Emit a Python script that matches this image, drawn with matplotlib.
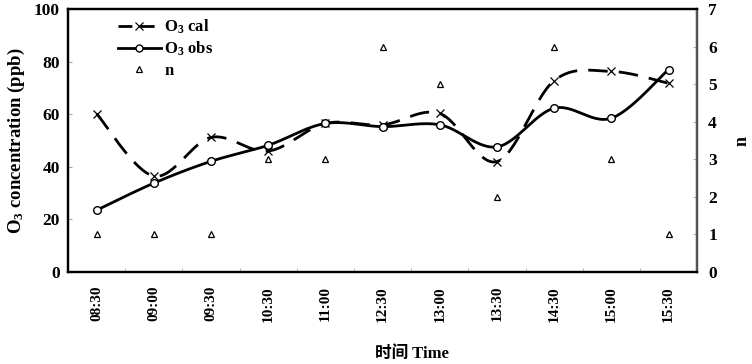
import numpy as np
import matplotlib
matplotlib.use("Agg")
import matplotlib.pyplot as plt
from matplotlib.lines import Line2D

plt.rcParams['font.family'] = ['Liberation Serif', 'Noto Sans CJK SC']
plt.rcParams['font.weight'] = 'bold'
plt.rcParams['mathtext.fontset'] = 'custom'
plt.rcParams['mathtext.rm'] = 'Liberation Serif:bold'
plt.rcParams['mathtext.it'] = 'Liberation Serif:bold'
plt.rcParams['mathtext.bf'] = 'Liberation Serif:bold'

times = ["08:30", "09:00", "09:30", "10:30", "11:00", "12:30",
         "13:00", "13:30", "14:30", "15:00", "15:30"]
o3_cal = [60.2, 36.5, 51.2, 46.0, 56.5, 56.0, 60.3, 42.0, 72.8, 76.3, 71.8]
o3_obs = [23.5, 33.8, 42.1, 48.2, 56.5, 55.3, 56.0, 47.6, 62.3, 58.5, 77.0]
n_vals = [1, 1, 1, 3, 3, 6, 5, 2, 6, 3, 1]


def smooth(xs, ys, steps=30):
    xs = np.asarray(xs, float)
    ys = np.asarray(ys, float)
    px, py = [], []
    N = len(xs)
    for i in range(N - 1):
        p0 = (xs[max(i - 1, 0)], ys[max(i - 1, 0)])
        p1 = (xs[i], ys[i])
        p2 = (xs[i + 1], ys[i + 1])
        p3 = (xs[min(i + 2, N - 1)], ys[min(i + 2, N - 1)])
        c1 = (p1[0] + (p2[0] - p0[0]) / 6, p1[1] + (p2[1] - p0[1]) / 6)
        c2 = (p2[0] - (p3[0] - p1[0]) / 6, p2[1] - (p3[1] - p1[1]) / 6)
        t = np.linspace(0, 1, steps, endpoint=(i == N - 2))
        bx = ((1 - t) ** 3 * p1[0] + 3 * (1 - t) ** 2 * t * c1[0]
              + 3 * (1 - t) * t ** 2 * c2[0] + t ** 3 * p2[0])
        by = ((1 - t) ** 3 * p1[1] + 3 * (1 - t) ** 2 * t * c1[1]
              + 3 * (1 - t) * t ** 2 * c2[1] + t ** 3 * p2[1])
        px.extend(bx)
        py.extend(by)
    return np.array(px), np.array(py)


x = np.arange(len(times))
fig = plt.figure(figsize=(7.52, 3.64), dpi=100)
ax = fig.add_axes([0.0904, 0.2527, 0.927 - 0.0904, 0.975 - 0.2527])
ax2 = ax.twinx()

sx, sy = smooth(x, o3_cal)
ax.plot(sx, sy, color='black', lw=2.0, dashes=(7, 4))
ax.plot(x, o3_cal, ls='none', marker='x', ms=6, mec='black', mew=0.9)
sx, sy = smooth(x, o3_obs)
ax.plot(sx, sy, color='black', lw=2.0)
ax.plot(x, o3_obs, ls='none', marker='o', ms=5.5, mfc='white', mec='black', mew=1.0)
ax2.plot(x, n_vals, ls='none', marker='^', ms=4.5, mfc='white', mec='black', mew=0.9)

ax.set_xlim(-0.5, len(times) - 0.5)
ax.set_ylim(0, 100)
ax2.set_ylim(0, 7)
ax.set_yticks(np.arange(0, 101, 20))
ax2.set_yticks(np.arange(0, 8, 1))
ax.set_xticks(x)
ax.set_xticklabels(times, rotation=90, fontsize=11, fontweight='bold')
ax.set_xticks(np.arange(0.5, len(times) - 1, 1), minor=True)
ax.tick_params(axis='x', which='major', length=0, pad=10)
ax.tick_params(axis='x', which='minor', direction='in', length=3, color='#aaaaaa')
ax.tick_params(axis='y', direction='in', length=3, color='#aaaaaa', labelsize=12.5, pad=6)
ax2.tick_params(axis='y', direction='in', length=3, color='#aaaaaa', labelsize=12.5, pad=8)
for t in ax.get_yticklabels() + ax2.get_yticklabels():
    t.set_fontweight('bold')

for a in (ax, ax2):
    for s in a.spines.values():
        s.set_linewidth(1.6)
        s.set_color('black')
ax2.spines['right'].set_color('#555555')

ax.set_ylabel('O$_3$ concentration (ppb)', fontsize=13.5, fontweight='bold', labelpad=5)
ax2.set_ylabel('n', fontsize=13, fontweight='bold', labelpad=12)
ax.set_xlabel('时间 Time', fontsize=12, fontweight='bold')
ax.xaxis.set_label_coords(0.547, -0.28)

handles = [
    Line2D([], [], color='black', lw=2.0, dashes=(5, 3), marker='x', ms=6, mew=0.9),
    Line2D([], [], color='black', lw=2.0, marker='o', ms=5, mfc='white', mew=1.0),
    Line2D([], [], ls='none', marker='^', ms=4.5, mfc='white', mec='black', mew=0.9),
]
ax.legend(handles, ['O$_3$ cal', 'O$_3$ obs', 'n'], loc='upper left',
          bbox_to_anchor=(0.055, 1.025), frameon=False,
          handlelength=2.6, handletextpad=0.2, labelspacing=0.25,
          prop={'family': 'Liberation Serif', 'weight': 'bold', 'size': 12})

fig.savefig('out.png', dpi=100)
